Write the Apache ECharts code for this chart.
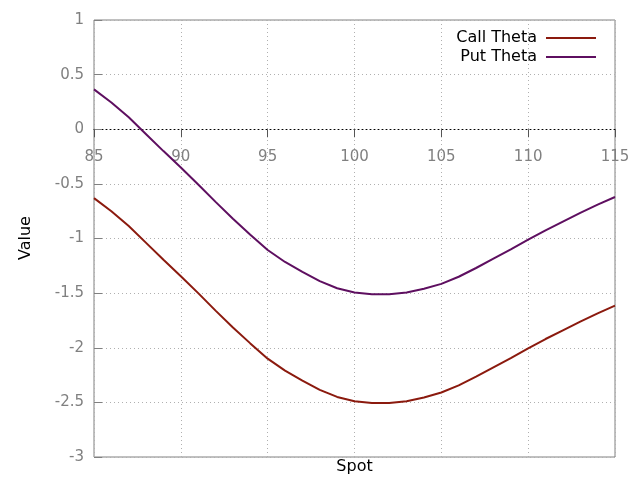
<!DOCTYPE html>
<html>
<head>
<meta charset="utf-8">
<script src="https://cdn.jsdelivr.net/npm/echarts@6/dist/echarts.min.js"></script>
<style>html,body{margin:0;padding:0;background:#fff}#c{width:640px;height:480px}</style>
</head>
<body>
<div id="c"></div>
<script>
const spots = [85,86,87,88,89,90,91,92,93,94,95,96,97,98,99,100,101,102,103,104,105,106,107,108,109,110,111,112,113,114,115];
const callTheta = [-0.63,-0.75,-0.885,-1.04,-1.195,-1.345,-1.50,-1.66,-1.815,-1.96,-2.10,-2.21,-2.30,-2.385,-2.45,-2.49,-2.505,-2.505,-2.49,-2.455,-2.41,-2.345,-2.265,-2.18,-2.095,-2.005,-1.92,-1.84,-1.76,-1.685,-1.615];
const putTheta = [0.365,0.245,0.11,-0.045,-0.2,-0.35,-0.505,-0.665,-0.82,-0.965,-1.105,-1.215,-1.305,-1.39,-1.455,-1.495,-1.51,-1.51,-1.495,-1.46,-1.415,-1.35,-1.27,-1.185,-1.1,-1.01,-0.925,-0.845,-0.765,-0.69,-0.62];
const seriesNames = ['Call Theta','Put Theta'];
const xTitle = 'Spot';
const yTitle = 'Value';
const yMin = -3, yMax = 1;

const font = 'DejaVu Sans';
const gridTop = 20, gridBottom = 23, H = 480;
const plotH = H - gridTop - gridBottom;
// x axis sits on the y = 0 line: shift it up from the bottom edge by the scaled distance
const zeroOffset = -plotH * (0 - yMin) / (yMax - yMin);

const chart = echarts.init(document.getElementById('c'), null, {renderer:'canvas'});
const pairs = arr => spots.map((s,i)=>[s,arr[i]]);
chart.setOption({
  animation:false,
  backgroundColor:'#fff',
  grid:{left:94,right:25,top:gridTop,bottom:gridBottom,show:true,borderColor:'#808080',borderWidth:1,backgroundColor:'transparent',outerBoundsMode:'none',containLabel:false},
  legend:{
    orient:'vertical', right:39, top:24, align:'right',
    itemWidth:50, itemHeight:2, itemGap:1, icon:'rect',
    textStyle:{fontFamily:font,fontSize:16,color:'#000',lineHeight:18,padding:[0,4,0,0]},
    data:seriesNames
  },
  xAxis:{
    type:'value', min:85, max:115, interval:5,
    position:'bottom', offset:zeroOffset,
    axisLine:{show:true,onZero:false,lineStyle:{color:'#000',width:1,type:[1,3]}},
    axisTick:{show:true,length:8,lineStyle:{color:'#555'}},
    axisLabel:{fontFamily:font,fontSize:15,color:'#808080',margin:20},
    splitLine:{show:true,lineStyle:{color:'#b0b0b0',width:1,type:[1,3]}}
  },
  yAxis:{
    type:'value', min:yMin, max:yMax, interval:0.5,
    axisLine:{show:false},
    axisTick:{show:true,inside:true,length:8,lineStyle:{color:'#808080'}},
    axisLabel:{fontFamily:font,fontSize:15,color:'#808080',margin:10},
    splitLine:{show:true,lineStyle:{color:'#b0b0b0',width:1,type:[1,3]}}
  },
  graphic:[
    {type:'text',x:354.5,y:467,style:{text:xTitle,fontFamily:font,fontSize:16,fill:'#000',textAlign:'center',textVerticalAlign:'middle'}},
    {type:'text',rotation:Math.PI/2,x:26,y:238,style:{text:yTitle,fontFamily:font,fontSize:16,fill:'#000',textAlign:'center',textVerticalAlign:'middle'}}
  ],
  series:[
    {name:seriesNames[0],type:'line',data:pairs(callTheta),showSymbol:false,symbol:'none',lineStyle:{color:'#8b1a0e',width:2},itemStyle:{color:'#8b1a0e'}},
    {name:seriesNames[1],type:'line',data:pairs(putTheta),showSymbol:false,symbol:'none',lineStyle:{color:'#5e0f60',width:2},itemStyle:{color:'#5e0f60'}}
  ]
});
</script>
</body>
</html>
